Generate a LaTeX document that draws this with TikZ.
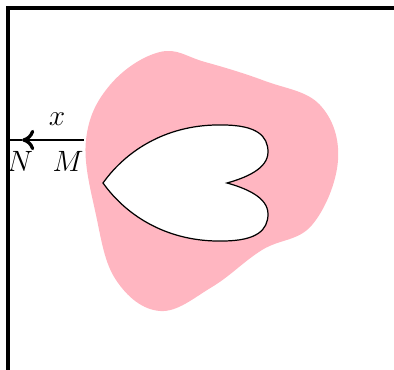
\documentclass[tikz,border=0pt]{standalone}
\usepackage{amsmath,amssymb}
\usepackage{tikz}
\usetikzlibrary{arrows.meta,positioning}
\definecolor{Blush}{HTML}{FFB6C1}

\begin{document}
\begin{tikzpicture}[x=0.49pt,y=-0.49pt,font=\fontsize{13.5}{16}\selectfont]
    \useasboundingbox (0,0) rectangle (394,370);
    % region
    \fill[Blush] plot[smooth cycle,tension=0.65] coordinates {
      (160,52) (110,85) (86,140) (96,215) (116,280) (160,311)
      (212,287) (262,250) (312,225) (338,160) (320,105) (265,81)
      (205,62)};
    % hole
    \draw[fill=white,line width=0.6pt]
      (103,183) .. controls (128,148) and (170,124) .. (222,125)
      .. controls (257,125) and (268,136) .. (268,152)
      .. controls (268,169) and (245,178) .. (227,183)
      .. controls (245,188) and (268,197) .. (268,214)
      .. controls (268,230) and (257,241) .. (222,241)
      .. controls (170,242) and (128,218) .. (103,183) -- cycle;
    % frame
    \coordinate (corner) at (8,8);
    \coordinate (top end) at (394,8);
    \coordinate (left end) at (8,370);
    \draw[line width=1.8pt] (top end) -- (corner) -- (left end);
    % shortest segment
    \coordinate (M) at (84,140);
    \coordinate (N) at (8,140);
    \coordinate (tip) at (22,140);
    \draw[line width=1.2pt,-{Computer Modern Rightarrow[length=6pt,width=10pt,line width=1.6pt]}] (M) -- (tip);
    \draw[line width=1.2pt] (tip) -- (N);
    \node (xlabel) at (57,119) {$x$};
    \node (Nlabel) at (20,161) {$N$};
    \node (Mlabel) at (68,161) {$M$};
  \end{tikzpicture}
\end{document}
